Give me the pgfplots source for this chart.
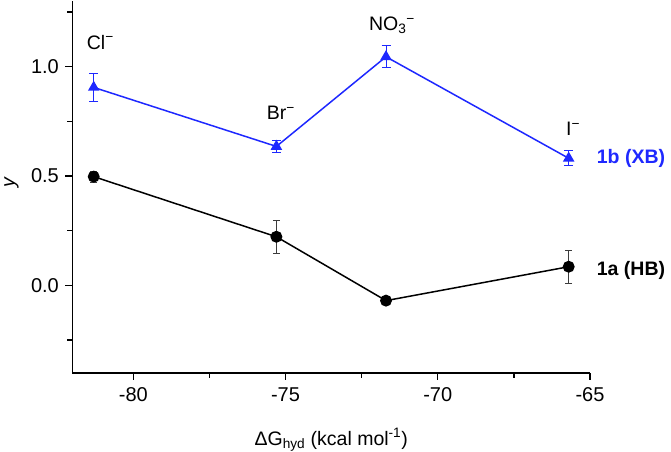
\documentclass[border=0pt]{standalone}
\usepackage{fontspec}
\setmainfont{Liberation Sans}
\usepackage{pgfplots}
\pgfplotsset{compat=1.18}
\definecolor{xbblue}{RGB}{30,40,255}
\definecolor{errgray}{RGB}{60,60,60}
\pgfplotstableread{
x y e
-81.3 0.905 0.063
-75.3 0.635 0.028
-71.7 1.045 0.050
-65.7 0.581 0.035
}\xbdata
\pgfplotstableread{
x y e
-81.3 0.497 0.025
-75.3 0.222 0.076
-71.7 -0.070 0.0
-65.7 0.085 0.075
}\hbdata
\begin{document}
\begin{tikzpicture}[font=\fontsize{19.5}{23}\selectfont]
\useasboundingbox (0,0) rectangle (671pt,451pt);
\begin{axis}[
  at={(72.4pt,78.2pt)}, anchor=south west,
  scale only axis, width=517.6pt, height=371.8pt,
  xmin=-82, xmax=-65, ymin=-0.4, ymax=1.3,
  axis x line*=bottom, axis y line*=left,
  axis line style={line width=1.4pt, -},
  font=\fontsize{19.5}{23}\selectfont,
  xtick={-80,-75,-70,-65}, minor xtick={-77.5,-72.5,-67.5},
  ytick={0,0.5,1}, minor ytick={-0.25,0.25,0.75,1.25},
  yticklabel style={/pgf/number format/fixed, /pgf/number format/fixed zerofill, /pgf/number format/precision=1},
  /pgf/number format/assume math mode=true,
  tick label style={font=\fontsize{20}{24}\selectfont},
  tick align=outside, major tick length=7pt, minor tick length=5pt,
  every tick/.style={line width=1.4pt, black},
  xticklabel style={yshift=-4pt},
  yticklabel style={xshift=-3pt},
  xlabel={ΔG\textsubscript{hyd} (kcal mol\textsuperscript{-1})},
  xlabel style={at={(axis description cs:0.5,0)}, anchor=base, yshift=-72.2pt, inner sep=0pt, font=\fontsize{19.5}{23}\selectfont},
  ylabel={\itshape y},
  ylabel style={at={(axis cs:-82,0.468)}, anchor=center, yshift=61pt, font=\fontsize{19.5}{23}\selectfont},
  clip=false,
]
\addplot[xbblue, line width=1.5pt, mark=triangle*, mark size=5.2pt,
  mark options={xbblue},
  error bars/.cd, y dir=both, y explicit,
  error bar style={line width=1pt, xbblue},
  error mark options={rotate=90, mark size=4.5pt, line width=1pt, xbblue}]
  table[x=x, y=y, y error=e] {\xbdata};
\addplot[black, line width=1.5pt, mark=*, mark size=5.2pt,
  mark options={black},
  error bars/.cd, y dir=both, y explicit,
  error bar style={line width=1pt, errgray},
  error mark options={rotate=90, mark size=3.5pt, line width=1pt, errgray}]
  table[x=x, y=y, y error=e] {\hbdata};
\node[anchor=base west, inner sep=0pt] at (axis cs:-81.53,1.080) {Cl\textsuperscript{−}};
\node[anchor=base west, inner sep=0pt] at (axis cs:-75.62,0.756) {Br\textsuperscript{−}};
\node[anchor=base west, inner sep=0pt] at (axis cs:-72.26,1.164) {NO\textsubscript{3}\textsuperscript{−}};
\node[anchor=base west, inner sep=0pt] at (axis cs:-65.79,0.683) {I\textsuperscript{−}};
\node[anchor=base west, inner sep=0pt, text=xbblue, font=\fontsize{19.5}{23}\selectfont\bfseries] at (axis cs:-64.78,0.558) {1b (XB)};
\node[anchor=base west, inner sep=0pt, font=\fontsize{19.5}{23}\selectfont\bfseries] at (axis cs:-64.78,0.047) {1a (HB)};
\end{axis}
\end{tikzpicture}
\end{document}
